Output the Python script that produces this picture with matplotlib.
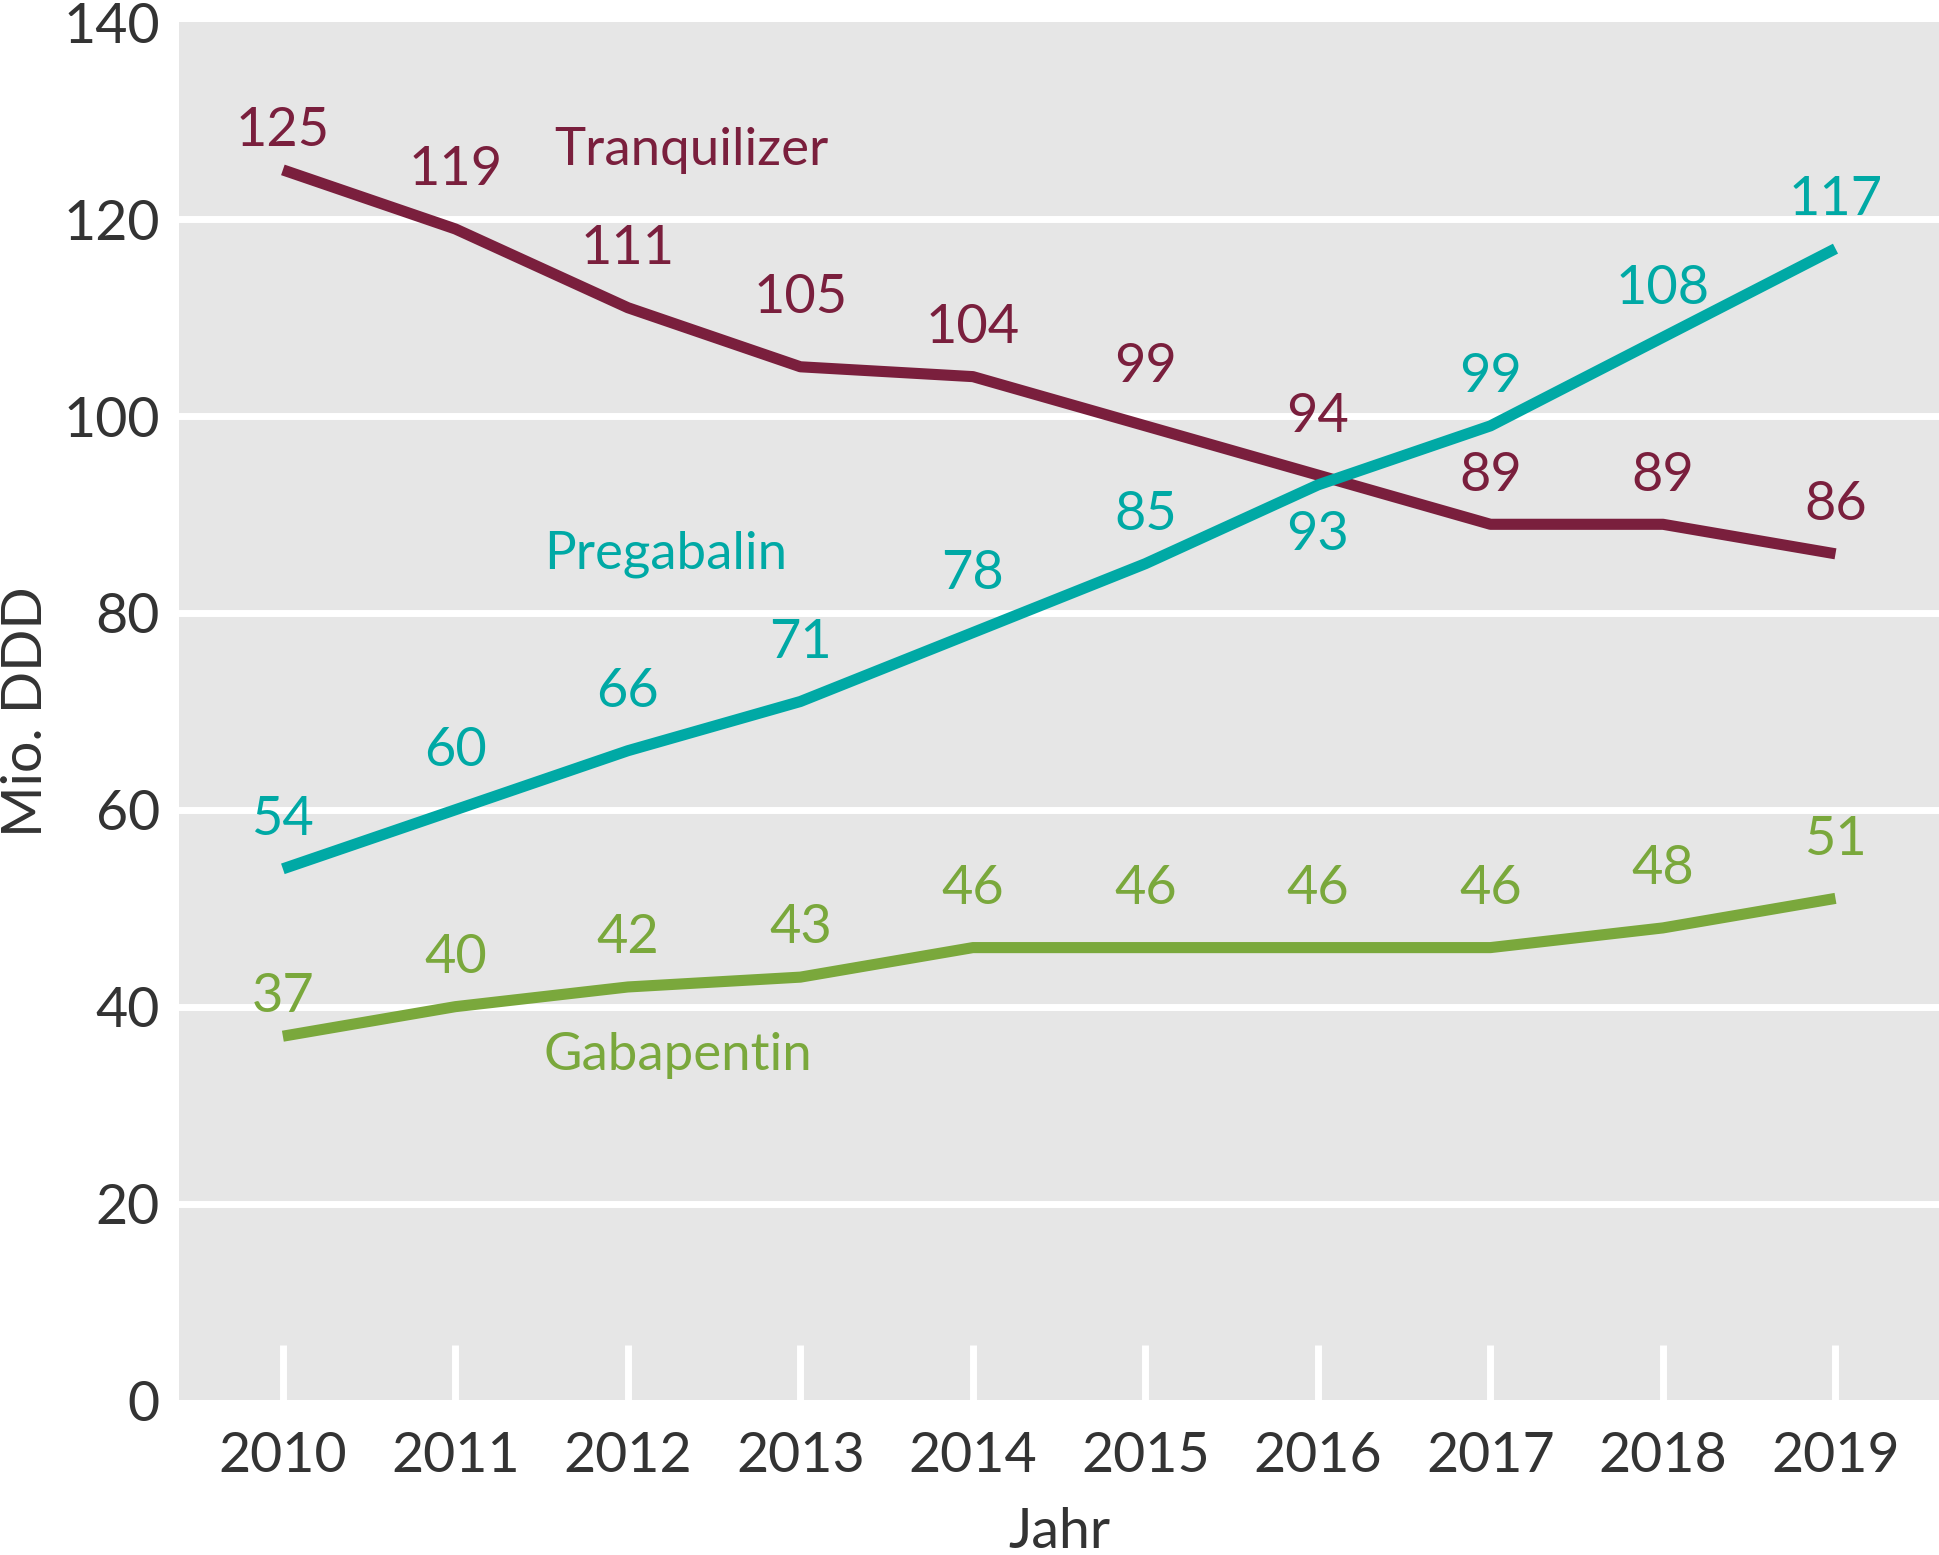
import matplotlib
matplotlib.use("Agg")
import matplotlib.pyplot as plt

years = [2010, 2011, 2012, 2013, 2014, 2015, 2016, 2017, 2018, 2019]
tranq = [125, 119, 111, 105, 104, 99, 94, 89, 89, 86]
prega = [54, 60, 66, 71, 78, 85, 93, 99, 108, 117]
gaba = [37, 40, 42, 43, 46, 46, 46, 46, 48, 51]
yticks = [0, 20, 40, 60, 80, 100, 120, 140]

plt.rcParams['font.family'] = ['Lato', 'DejaVu Sans']
c_t, c_p, c_g = '#7a1f3d', '#00a9a5', '#7aa83c'

fig = plt.figure(figsize=(19.39, 15.55), dpi=100)
ax = fig.add_axes([0.0925, 0.0994, 0.9075, 0.8863])
ax.set_facecolor('#e6e6e6')
ax.set_xlim(2009.40, 2019.60)
ax.set_ylim(0, 140)
for y in yticks[1:-1]:
    ax.axhline(y, color='white', lw=5, zorder=1)
ax.vlines(years, 0, 5.6, color='white', lw=5, zorder=1)
for s in ax.spines.values():
    s.set_visible(False)
ax.set_yticks(yticks)
ax.set_xticks(years)
ax.tick_params(axis='y', length=0, labelsize=40, colors='#333333', pad=14)
ax.tick_params(axis='x', length=0, labelsize=40, colors='#333333', pad=22)
ax.set_ylabel('Mio. DDD', fontsize=40, color='#333333', labelpad=8)
ax.set_xlabel('Jahr', fontsize=40, color='#333333', labelpad=18)

for vals, c in [(tranq, c_t), (prega, c_p), (gaba, c_g)]:
    ax.plot(years, vals, color=c, lw=8, zorder=3, solid_capstyle='butt')

def lab(vals, c, offs):
    for x, v, o in zip(years, vals, offs):
        ax.text(x, v + o, str(v), color=c, fontsize=39, ha='center', va='center', zorder=4)

lab(tranq, c_t, [4, 6, 6, 7, 5, 6, 6, 5, 5, 5])
lab(prega, c_p, [5, 6, 6, 6, 6, 5, -5, 5, 5, 5])
lab(gaba, c_g, [4, 5, 5, 5, 6, 6, 6, 6, 6, 6])

ax.text(2012.37, 127, 'Tranquilizer', color=c_t, fontsize=38, ha='center', va='center')
ax.text(2012.22, 86, 'Pregabalin', color=c_p, fontsize=38, ha='center', va='center')
ax.text(2012.29, 35, 'Gabapentin', color=c_g, fontsize=38, ha='center', va='center')

fig.savefig('out.png', dpi=100)
